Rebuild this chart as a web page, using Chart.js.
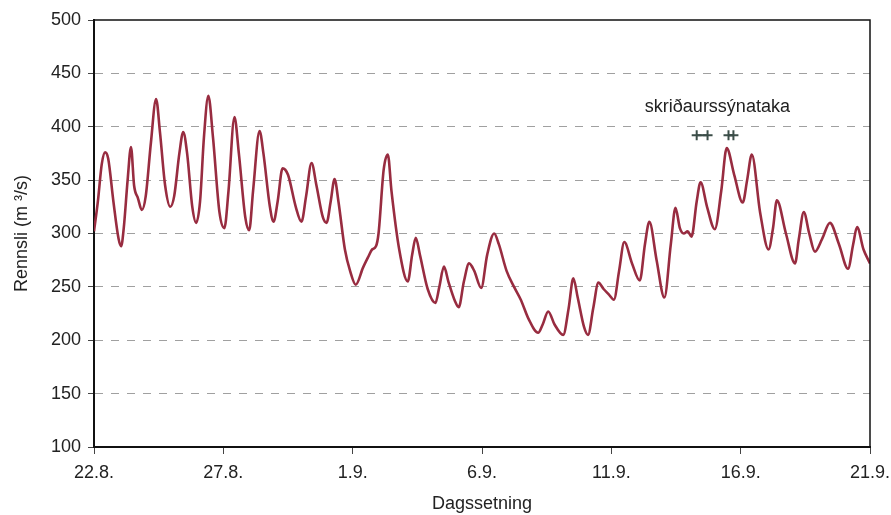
<!DOCTYPE html>
<html>
<head>
<meta charset="utf-8">
<script src="https://cdn.jsdelivr.net/npm/chart.js@4/dist/chart.umd.min.js"></script>
<style>
  html, body { margin: 0; padding: 0; background: #fff; }
  #wrap { width: 891px; height: 515px; }
</style>
</head>
<body>
<div id="wrap"><canvas id="c" width="891" height="515"></canvas></div>
<script>
// Days since 22.8. and discharge (m³/s)
const days = [
  0.0, 0.15, 0.3, 0.43, 0.55, 0.75, 0.95, 1.05, 1.15, 1.3, 1.43, 1.55, 1.7, 1.85,
  2.0, 2.2, 2.4, 2.55, 2.75, 2.95, 3.1, 3.3, 3.45, 3.6, 3.8, 3.95,
  4.1, 4.25, 4.42, 4.6, 4.85, 5.04, 5.2, 5.43, 5.6, 5.85, 6.0,
  6.15, 6.4, 6.55, 6.8, 6.94, 7.1, 7.29, 7.5, 7.8, 8.02,
  8.2, 8.41, 8.6, 8.85, 8.99, 9.15, 9.3, 9.45, 9.7, 9.9, 10.12,
  10.4, 10.6, 10.75, 10.9, 11.0, 11.2, 11.36, 11.5, 11.8, 12.13,
  12.3, 12.44, 12.6, 12.9, 13.2, 13.35, 13.53, 13.7, 13.95, 14.1,
  14.3, 14.5, 14.7, 14.97, 15.2, 15.47, 15.65, 15.95, 16.24, 16.5, 16.8, 17.17,
  17.35, 17.56, 17.8, 18.14, 18.35, 18.53, 18.7, 18.95, 19.1,
  19.3, 19.5, 19.7, 19.9, 20.1, 20.3, 20.5, 20.8, 21.1, 21.3, 21.47, 21.75, 22.05,
  22.3, 22.48, 22.65, 22.8, 22.95, 23.1, 23.3, 23.45, 23.7, 24.0,
  24.25, 24.46, 24.75, 25.08, 25.25, 25.43, 25.75, 26.08,
  26.25, 26.4, 26.75, 27.1, 27.25, 27.44, 27.65, 27.87, 28.15, 28.45, 28.8, 29.15,
  29.35, 29.5, 29.75, 30.0
];
const flow = [
  302, 330, 365, 376, 370, 330, 295, 288, 305, 350, 381, 345, 333, 322,
  335, 385, 426, 395, 345, 325, 335, 375, 395, 375, 325, 310,
  330, 390, 429, 390, 320, 305, 340, 409, 375, 315, 303,
  340, 396, 375, 325, 311, 330, 361, 355, 325, 311,
  335, 366, 345, 315, 310, 330, 351, 330, 285, 265, 252,
  268, 278, 285, 288, 300, 360, 374, 340, 285, 255,
  280, 296, 280, 248, 235, 250, 269, 255, 237, 231,
  255, 272, 265, 249, 280, 300, 290, 265, 250, 238, 220, 207,
  215, 227, 215, 205, 230, 258, 240, 212, 205,
  230, 254, 248, 243, 238, 265, 292, 272, 256, 290, 311, 275, 240,
  290, 324, 305, 300, 302, 297, 330, 348, 325, 304,
  340, 380, 355, 329, 350, 374, 320, 285,
  305, 331, 300, 272, 295, 320, 300, 283, 295, 310, 290, 267,
  290, 306, 285, 272
];
// Sediment sampling times (days) at the marker level
const sampleDays = [23.3, 23.72, null, 24.53, 24.72];
const sampleLevel = 392;
const sampleLabel = 'skriðaurssýnataka';

const dateLabels = ['22.8.', '27.8.', '1.9.', '6.9.', '11.9.', '16.9.', '21.9.'];
const yTicks = [100, 150, 200, 250, 300, 350, 400, 450, 500];

const FONT = 'Liberation Sans, Arial, sans-serif';
const FSIZE = 18;

const flowPoints = days.map((d, i) => ({ x: d, y: flow[i] }));
const samplePoints = sampleDays.map(d => (d === null ? { x: 24.1, y: null } : { x: d, y: sampleLevel }));

// Frame on top/right of the plot area and the sampling caption
const framePlugin = {
  id: 'frame',
  afterDraw(chart) {
    const { ctx, chartArea: a, scales } = chart;
    ctx.save();
    ctx.strokeStyle = '#111';
    ctx.lineWidth = 1.5;
    ctx.beginPath();
    ctx.moveTo(a.left, a.top);
    ctx.lineTo(a.right, a.top);
    ctx.lineTo(a.right, a.bottom);
    ctx.stroke();
    ctx.fillStyle = '#222';
    ctx.font = FSIZE + 'px ' + FONT;
    ctx.textAlign = 'center';
    ctx.textBaseline = 'middle';
    ctx.fillText(sampleLabel, scales.x.getPixelForValue(24.1), scales.y.getPixelForValue(418.5));
    ctx.restore();
  }
};

new Chart(document.getElementById('c'), {
  type: 'line',
  data: {
    datasets: [
      {
        data: flowPoints,
        borderColor: '#982c40',
        borderWidth: 2.6,
        pointRadius: 0,
        cubicInterpolationMode: 'monotone',
        fill: false
      },
      {
        data: samplePoints,
        borderColor: '#3b4d48',
        borderWidth: 2,
        pointStyle: 'cross',
        pointRadius: 5,
        pointBorderWidth: 2,
        pointBorderColor: '#3b4d48',
        spanGaps: false,
        tension: 0,
        fill: false
      }
    ]
  },
  options: {
    responsive: false,
    animation: false,
    events: [],
    layout: { padding: { top: 20, right: 21, left: 0, bottom: 0 } },
    plugins: { legend: { display: false }, tooltip: { enabled: false } },
    scales: {
      x: {
        type: 'linear',
        min: 0,
        max: 30,
        afterFit(s) { s.height = 68; s.paddingLeft = 0; s.paddingRight = 0; },
        afterBuildTicks(s) { s.ticks = dateLabels.map((_, i) => ({ value: i * 5 })); },
        ticks: {
          autoSkip: false,
          maxRotation: 0,
          padding: 8,
          color: '#222',
          font: { family: FONT, size: FSIZE },
          callback: v => dateLabels[Math.round(v / 5)]
        },
        grid: { drawOnChartArea: false, drawTicks: true, tickLength: 7, tickColor: '#444', tickWidth: 1 },
        border: { display: true, color: '#111', width: 2 },
        title: { display: true, text: 'Dagssetning', color: '#222', font: { family: FONT, size: FSIZE }, padding: { top: 0, bottom: 0 } }
      },
      y: {
        min: 100,
        max: 500,
        afterFit(s) { s.width = 94; s.paddingTop = 0; s.paddingBottom = 0; },
        afterBuildTicks(s) { s.ticks = yTicks.map(v => ({ value: v })); },
        ticks: {
          padding: 7,
          color: '#222',
          font: { family: FONT, size: FSIZE },
          callback: v => String(v)
        },
        grid: {
          drawTicks: true,
          tickLength: 6,
          tickColor: '#444',
          tickWidth: 1,
          tickBorderDash: [],
          color: ctx => (ctx.tick && (ctx.tick.value === 100 || ctx.tick.value === 500)) ? 'rgba(0,0,0,0)' : '#a0a0a0',
          lineWidth: 1
        },
        border: { display: true, color: '#111', width: 2, dash: [8, 8] },
        title: { display: true, text: 'Rennsli (m ³/s)', color: '#222', font: { family: FONT, size: FSIZE }, padding: { top: 11, bottom: 0 } }
      }
    }
  },
  plugins: [framePlugin]
});
</script>
</body>
</html>
